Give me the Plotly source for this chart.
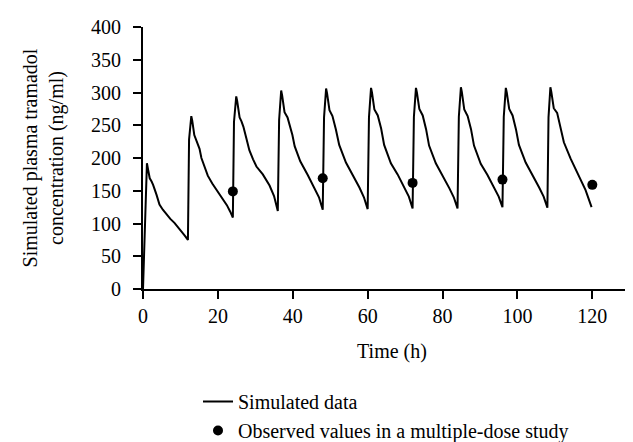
import plotly.graph_objects as go

# Simulated plasma tramadol concentration (ng/ml) vs time (h)
sim_time = [
    0, 0.2, 0.45, 0.8, 1.05, 1.3, 1.8, 2.3, 2.7, 3.6, 4.4, 5.3, 6.2, 7.3, 8.4, 9.3, 10.2, 11.1, 12.0,
    12.3, 12.9, 13.15, 13.7, 14.2, 14.7, 15.1, 15.6, 16.4, 17.3, 18.5, 20.0, 21.2, 22.4, 23.3, 24.0,
    24.3, 24.9, 25.15, 25.8, 26.3, 26.8, 27.6, 28.4, 29.4, 30.3, 32.0, 33.8, 35.0, 36.0,
    36.35, 36.9, 37.15, 37.8, 38.6, 39.1, 39.9, 40.5, 42.0, 44.0, 45.8, 47.0, 48.0,
    48.35, 48.9, 49.15, 49.8, 50.6, 51.5, 52.4, 54.2, 56.0, 57.8, 59.0, 60.0,
    60.35, 60.9, 61.15, 61.8, 62.7, 63.6, 64.4, 66.2, 68.0, 69.8, 71.0, 72.0,
    72.35, 72.9, 73.15, 73.8, 74.7, 75.6, 76.4, 78.2, 80.0, 81.8, 83.0, 84.0,
    84.35, 84.9, 85.15, 85.8, 86.7, 87.6, 88.4, 90.2, 92.0, 93.8, 95.0, 96.0,
    96.35, 96.9, 97.15, 97.8, 98.7, 99.6, 100.4, 102.2, 104.0, 105.8, 107.0, 108.0,
    108.3, 108.8, 109.05, 109.7, 110.6, 111.5, 112.4, 114.2, 116.4, 118.2, 119.8,
]
sim_conc = [
    0, 40, 99, 172, 192, 184, 169, 164, 159, 144, 129, 121, 114, 107, 101, 95, 89, 82, 75,
    228, 264, 257, 235, 228, 222, 214, 200, 188, 173, 161, 149, 138, 128, 118, 109,
    255, 294, 287, 262, 256, 248, 230, 212, 198, 187, 175, 158, 142, 119,
    258, 303, 296, 270, 262, 253, 235, 218, 195, 174, 155, 140, 121,
    262, 306, 299, 273, 264, 244, 220, 193, 175, 155, 140, 122,
    262, 307, 300, 274, 265, 245, 220, 192, 175, 155, 141, 123,
    263, 307, 300, 275, 265, 244, 219, 192, 174, 154, 140, 123,
    263, 308, 301, 274, 264, 244, 219, 191, 174, 154, 141, 125,
    263, 307, 300, 275, 265, 244, 220, 193, 175, 155, 141, 124,
    262, 308, 301, 276, 269, 244, 224, 199, 174, 151, 125,
]

obs_time = [24, 48, 72, 96, 120]
obs_conc = [149, 169, 162, 167, 159]

x_ticks = [0, 20, 40, 60, 80, 100, 120]
y_ticks = [0, 50, 100, 150, 200, 250, 300, 350, 400]

FONT = "Liberation Serif, Times New Roman, serif"

fig = go.Figure()
fig.add_trace(go.Scatter(
    x=sim_time, y=sim_conc, mode="lines", name="Simulated data",
    line=dict(color="black", width=2), cliponaxis=False,
))
fig.add_trace(go.Scatter(
    x=obs_time, y=obs_conc, mode="markers",
    name="Observed values in a multiple-dose study",
    marker=dict(color="black", size=10), cliponaxis=False,
))

fig.update_layout(
    width=633, height=442,
    margin=dict(l=135, r=0, t=19, b=156),
    paper_bgcolor="white", plot_bgcolor="white",
    font=dict(family=FONT, size=20, color="black"),
    showlegend=True,
    legend=dict(
        x=55 / 498, xref="paper", xanchor="left",
        y=-0.355, yanchor="top",
        bgcolor="rgba(0,0,0,0)", borderwidth=0,
        font=dict(family=FONT, size=20, color="black"),
        tracegroupgap=0,
    ),
    xaxis=dict(
        range=[0, 133], tickmode="array", tickvals=x_ticks,
        ticks="outside", ticklen=8, tickwidth=2, tickcolor="black",
        showline=True, linecolor="black", linewidth=2,
        showgrid=False, zeroline=False,
        title=dict(text="Time (h)", standoff=18, font=dict(family=FONT, size=20)),
        tickfont=dict(family=FONT, size=20),
    ),
    yaxis=dict(
        range=[0, 400], tickmode="array", tickvals=y_ticks,
        ticks="outside", ticklen=8, tickwidth=2, tickcolor="black",
        showline=True, linecolor="black", linewidth=2,
        showgrid=False, zeroline=False, ticklabelstandoff=8,
        title=dict(text="Simulated plasma tramadol<br>concentration (ng/ml)", standoff=22,
                   font=dict(family=FONT, size=20)),
        tickfont=dict(family=FONT, size=20),
    ),
)

fig.write_html("out.html")
